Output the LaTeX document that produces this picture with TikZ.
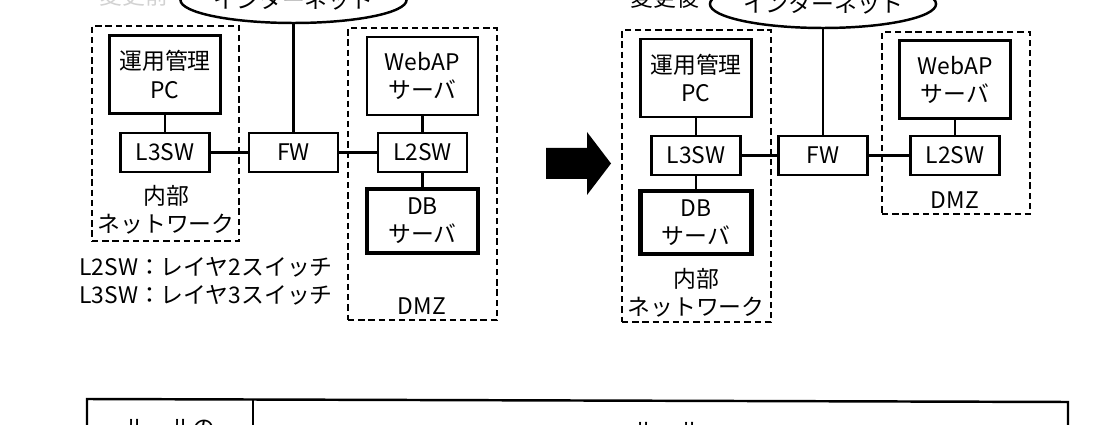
\documentclass[tikz,border=0pt]{standalone}
\usepackage{fontspec}
\newfontfamily\jpfont{Noto Sans CJK JP}
\newcommand\jpText{\jpfont\fontsize{13}{16}\selectfont}
\usetikzlibrary{shapes.geometric, positioning}

\begin{document}
\begin{tikzpicture}[
    x=0.02cm, y=-0.02cm,
    % ── boxes ──
    devBox/.style    = {draw, line width=1.4pt, minimum width=2.22cm,
                        minimum height=1.56cm, inner sep=0pt,
                        align=center, font=\jpText},
    dbBox/.style     = {devBox, line width=2.4pt, minimum height=1.27cm},
    swBox/.style     = {draw, line width=1.4pt, minimum width=1.78cm,
                        minimum height=0.78cm, inner sep=0pt, font=\jpText},
    zoneBox/.style   = {draw, line width=1.4pt,
                        dash pattern=on 3.6pt off 2.2pt, inner sep=0pt},
    inetCloud/.style = {draw, ellipse, line width=1.4pt, inner sep=0pt,
                        font=\jpText},
    % ── lines ──
    link/.style      = {line width=1.4pt},
    % ── text styles ──
    mainLabel/.style = {font=\jpText, align=center, inner sep=0pt},
]

\useasboundingbox (0,0) rectangle (1118,425);
\clip (0,0) rectangle (1118,425);

\def\rowA{152.5}  % switch row, before
\def\rowB{155.5}  % switch row, after

% =====================================================================
% BEFORE   (x = 79 – 497)
% =====================================================================
\node[mainLabel, text=gray!35] (titleA) at (134,-4) {変更前};
\node[inetCloud, minimum width=4cm, minimum height=0.92cm] (inetA)
  at (293.5,0) {インターネット};

% internal network zone
\node[zoneBox, minimum width=2.94cm, minimum height=4.3cm] (intA)
  at (165.5,133.5) {};
\node[devBox] (pcA) at (165,74.5) {運用管理\\PC};
\node[swBox] (l3A) at (165,\rowA) {L3SW};
\node[mainLabel] (intLabelA) at (166,210) {内部\\ネットワーク};

% firewall
\node[swBox] (fwA) at (293.5,\rowA) {FW};

% DMZ zone
\node[zoneBox, minimum width=2.98cm, minimum height=5.84cm] (dmzA)
  at (422.5,174) {};
\node[devBox] (webA) at (422.5,76) {WebAP\\サーバ};
\node[swBox] (l2A) at (422.5,\rowA) {L2SW};
\node[dbBox] (dbA) at (422.5,221) {DB\\サーバ};
\node[mainLabel] (dmzLabelA) at (422,306) {DMZ};

% legend
\node[mainLabel, anchor=west, align=left] (legend) at (79,281)
  {L2SW：レイヤ2スイッチ\\L3SW：レイヤ3スイッチ};

\draw[link] (inetA) -- (fwA);
\draw[link] (pcA) -- (l3A);
\draw[link] (l3A) -- (fwA);
\draw[link] (fwA) -- (l2A);
\draw[link] (webA) -- (l2A);
\draw[link] (l2A) -- (dbA);

% =====================================================================
% Change arrow
% =====================================================================
\fill (546,148) -- (587,148) -- (587,132) -- (611,163.5)
  -- (587,195) -- (587,179) -- (546,179) -- cycle;

% =====================================================================
% AFTER   (x = 622 – 1030)
% =====================================================================
\node[mainLabel] (titleB) at (665,-2) {変更後};
\node[inetCloud, minimum width=3.86cm, minimum height=0.96cm] (inetB)
  at (823,4) {インターネット};

% internal network zone
\node[zoneBox, minimum width=2.98cm, minimum height=5.84cm] (intB)
  at (696.5,176) {};
\node[devBox] (pcB) at (696,78) {運用管理\\PC};
\node[swBox] (l3B) at (696,\rowB) {L3SW};
\node[dbBox] (dbB) at (696,222.5) {DB\\サーバ};
\node[mainLabel] (intLabelB) at (696,292.5) {内部\\ネットワーク};

% firewall
\node[swBox] (fwB) at (823,\rowB) {FW};

% DMZ zone
\node[zoneBox, minimum width=2.96cm, minimum height=3.64cm] (dmzB)
  at (956,123) {};
\node[devBox] (webB) at (955,79.5) {WebAP\\サーバ};
\node[swBox] (l2B) at (955,\rowB) {L2SW};
\node[mainLabel] (dmzLabelB) at (955,200) {DMZ};

\draw[link] (inetB) -- (fwB);
\draw[link] (pcB) -- (l3B);
\draw[link] (l3B) -- (dbB);
\draw[link] (l3B) -- (fwB);
\draw[link] (fwB) -- (l2B);
\draw[link] (webB) -- (l2B);

% =====================================================================
% Rule table (cut off at the bottom)
% =====================================================================
\draw[link] (87,470) -- (87,399) -- (1068,402) -- (1068,470);
\draw[link] (253,399.5) -- (253,470);
\node[mainLabel] (ruleHead) at (170,428) {ルールの};
\node[mainLabel] (ruleBody) at (668,431) {ルール};

\end{tikzpicture}
\end{document}
